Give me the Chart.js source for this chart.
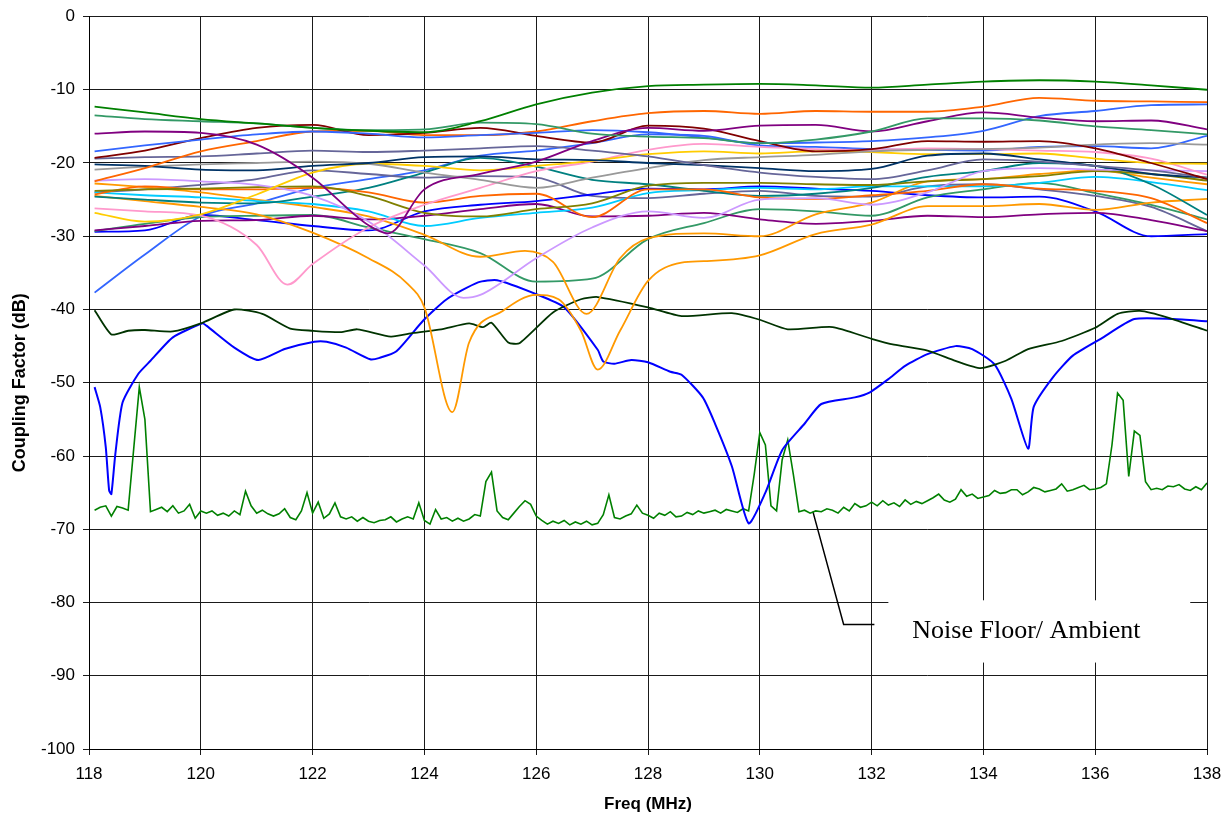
<!DOCTYPE html>
<html>
<head>
<meta charset="utf-8">
<script src="https://cdn.jsdelivr.net/npm/chart.js@4.4.1/dist/chart.umd.min.js"></script>
<style>
  html, body { margin: 0; padding: 0; background: #fff; }
  #wrap { width: 1232px; height: 821px; }
</style>
</head>
<body>
<div id="wrap"><canvas id="couplingChart" width="1232" height="821"></canvas></div>
<script>
// DATA

const freq = [118.1, 119, 120, 121, 122, 123, 124, 125, 126, 127, 128, 129, 130, 131, 132, 133, 134, 135, 136, 137, 138];

const greenTop = [-12.3, -13.1, -14, -14.6, -15.2, -15.6, -15.8, -14.3, -12, -10.4, -9.5, -9.3, -9.2, -9.4, -9.7, -9.3, -8.9, -8.7, -8.9, -9.4, -10];
const seaGreenTop = [-13.5, -14, -14.3, -14.6, -15.2, -15.5, -15.4, -14.5, -14.7, -16, -16.4, -16.6, -17.3, -16.8, -15.7, -13.9, -13.9, -14.2, -15, -15.5, -16.1];
const royalBlueTop = [-18.4, -17.6, -16.8, -16.1, -15.7, -16, -16.5, -16.2, -15.9, -15.5, -15.8, -16.5, -17.3, -17.2, -17, -16.5, -15.6, -13.6, -12.9, -12.1, -12];
const darkRed = [-19.3, -18.3, -16.6, -15.2, -14.8, -16.2, -15.9, -15.2, -16.3, -17.2, -14.9, -15.3, -17, -18.4, -18.1, -17, -17.1, -17, -18, -20, -22.2];
const orangeRising = [-22.5, -20.7, -18.4, -17, -15.7, -15.6, -16.2, -16.2, -15.7, -14.3, -13.2, -12.9, -13.3, -12.9, -13, -13, -12.3, -11.1, -11.5, -11.6, -11.7];
const slateTop = [-19.4, -19.2, -19.1, -18.7, -18.3, -18.5, -18.3, -18, -17.7, -18.3, -19.1, -20.3, -21.3, -21.9, -22.2, -21, -19.5, -19.8, -20.4, -21, -22];
const navy = [-20.2, -20.4, -20.9, -21, -20.4, -20, -19.2, -19.1, -19.5, -19.6, -20, -20.3, -20.7, -21.1, -20.8, -19, -18.7, -19.5, -20.4, -21.5, -22];
const gray = [-20.9, -20.5, -20.2, -20, -19.8, -20.1, -21.3, -22.3, -23.4, -22, -20.7, -19.6, -19.2, -18.9, -18.4, -18.2, -18.1, -17.9, -17.5, -17.3, -17.5];
const gold = [-26.8, -28, -27, -24.3, -21.3, -20.1, -20.4, -21, -20.4, -19.7, -18.8, -18.4, -18.7, -18.4, -18.5, -18.8, -18.8, -18.7, -19.4, -20, -20.1];
const olive = [-23.8, -23.6, -23.5, -23.3, -23.2, -24.5, -26.8, -27.3, -26.3, -25.5, -23.1, -22.7, -22.7, -22.9, -23, -22.5, -22.2, -21.8, -21.1, -21.5, -22.4];
const orangeLow = [-24.3, -23.2, -23.6, -23.6, -23.4, -24, -25.4, -24.5, -24.2, -27.4, -23.6, -23.6, -24.7, -24.9, -24.4, -23.8, -22.9, -23.5, -23.8, -24.8, -28.2];
const teal = [-24.6, -25, -25.4, -25.5, -24.6, -23.4, -21.3, -19.3, -20.5, -22.3, -22.9, -23.8, -24.5, -24.2, -23.4, -21.9, -21.1, -20, -20.4, -22.9, -27.1];
const cyan = [-24, -24.4, -24.7, -25.2, -25.6, -26.6, -28.6, -27.5, -26.8, -26.1, -24.1, -23.7, -23.4, -23.6, -23.2, -23.2, -23.2, -22.7, -21.9, -22.6, -23.7];
const purpleLow = [-29.2, -28.6, -27.9, -27.8, -27.2, -27.7, -27.2, -26.3, -25.6, -27.3, -27.2, -26.8, -27.7, -28.3, -27.9, -27.2, -27.4, -27, -26.8, -27.8, -29.3];
const seaGreenLow = [-29.3, -28.3, -27.4, -27.2, -27.1, -28.8, -30.4, -32.3, -36.2, -35.8, -30.4, -28.2, -26.3, -26.6, -27.2, -24.7, -23.6, -22.7, -24.1, -25.7, -27.7];
const blueUpper = [-29.4, -29.2, -27.1, -27.8, -28.6, -29.2, -26.6, -25.7, -25.2, -24.3, -23.5, -23.6, -23.2, -23.5, -23.8, -24.4, -24.7, -24.6, -26.6, -30, -29.7];
const slateLow = [-24, -23.6, -23, -22.2, -21, -21.5, -22, -21.8, -22, -24.5, -24.8, -24.2, -23.8, -24.5, -24.6, -23.2, -22.9, -23.6, -24.5, -26, -29.3];
const blueRising = [-37.7, -32.5, -27.3, -25.5, -23.4, -22.2, -21, -19, -18.3, -17.3, -16.1, -16.3, -17.6, -17.8, -18.1, -18.2, -18.3, -17.8, -17.7, -18, -16.3];

const purpleFreq = [118.1, 119, 120, 121, 122, 123, 123.35, 124, 125, 126, 127, 128, 129, 130, 131, 132, 133, 134, 135, 136, 137, 138];
const purpleTop = [-16, -15.7, -15.9, -17.5, -22, -28.5, -29.6, -23.6, -21.5, -19.8, -17, -15.2, -15.6, -14.9, -14.8, -15.7, -14.3, -13.1, -13.8, -14.3, -14.2, -15.4];

const pinkFreq = [118.1, 119, 120, 121, 121.55, 122, 123, 124, 125, 126, 127, 128, 129, 130, 131, 132, 133, 134, 135, 136, 137, 138];
const pink = [-26.2, -26.6, -27.2, -31.2, -36.6, -33.8, -28.8, -25.7, -23.4, -21.1, -19.8, -18.2, -17.4, -17.8, -18.1, -18.2, -18, -18.1, -18.3, -18.5, -19.4, -21.6];

const lavenderFreq = [118.1, 119, 120, 121, 122, 123, 124, 124.7, 125, 126, 127, 128, 129, 130, 131, 132, 133, 134, 135, 136, 137, 138];
const lavender = [-22.4, -22.2, -22.5, -23, -24.5, -28, -34, -38.4, -38, -33, -28.8, -26.6, -27.5, -25, -24.8, -25.7, -24, -21.1, -20.7, -20.9, -21, -21.1];

const amberMidFreq = [118.1, 119, 120, 121, 122, 123, 124, 125, 125.8, 126.3, 126.9, 127.5, 128, 129, 130, 131, 132, 133, 134, 135, 136, 137, 138];
const amberMid = [-22.8, -23.3, -24, -25, -26, -27.3, -29.8, -32.8, -32, -33.5, -40.6, -33, -30.3, -29.6, -30, -27, -25.4, -22.5, -22.2, -21.5, -21, -22, -22.9];

const amberDeepFreq = [118.1, 119, 120, 121, 122, 123, 123.7, 124, 124.5, 124.8, 125.4, 126, 126.4, 126.8, 127.1, 127.5, 128, 128.6, 129, 130, 131, 132, 133, 134, 135, 136, 137, 138];
const amberDeep = [-24.5, -25.2, -26, -27, -29.5, -33, -36.5, -39.7, -54, -44.5, -40.2, -38, -38.6, -42.9, -48.2, -42.9, -36.1, -33.6, -33.4, -32.6, -29.7, -28.4, -25.9, -25.9, -25.6, -26.4, -25.4, -24.9];

const darkGreenFreq = [118.1, 118.4, 118.7, 119, 119.5, 120, 120.6, 121.1, 121.6, 122, 122.5, 122.8, 123.4, 123.8, 124.3, 124.8, 125.05, 125.2, 125.5, 125.7, 126.3, 126.8, 127.1, 128, 128.6, 129.5, 130, 130.5, 131.3, 132, 132.4, 133, 133.5, 133.95, 134.4, 134.8, 135.4, 136, 136.4, 136.8, 137.3, 138];
const darkGreen = [-40.1, -43.4, -42.9, -42.8, -43, -41.9, -40, -40.6, -42.6, -42.9, -43.1, -42.7, -43.7, -43.2, -42.7, -41.9, -42.4, -41.8, -44.5, -44.6, -40.4, -38.6, -38.3, -39.7, -40.9, -40.5, -41.4, -42.7, -42.4, -44, -44.8, -45.6, -47, -48, -47, -45.4, -44.3, -42.5, -40.6, -40.2, -41.1, -42.9];

const blueDipFreq = [118.1, 118.2, 118.3, 118.36, 118.4, 118.47, 118.6, 118.88, 119.1, 119.5, 120.03, 120.1, 120.6, 121.03, 121.5, 122.03, 122.25, 122.6, 123.03, 123.2, 123.5, 123.98, 124.4, 124.96, 125.3, 126, 126.5, 127.1, 127.2, 127.4, 127.7, 128, 128.4, 128.6, 128.98, 129.2, 129.5, 129.8, 130.1, 130.4, 130.8, 131.1, 131.7, 131.97, 132.3, 132.6, 133, 133.5, 133.8, 134.2, 134.5, 134.8, 134.9, 135.25, 135.6, 136.1, 136.7, 137.4, 138];
const blueDip = [-50.6, -53.3, -58.8, -64.7, -65.2, -59.8, -52.7, -48.8, -47, -43.8, -41.9, -42.2, -45.2, -46.9, -45.4, -44.4, -44.4, -45.2, -46.8, -46.6, -45.7, -41.5, -38.6, -36.3, -36, -37.9, -39.7, -45.5, -47.1, -47.4, -46.9, -47.2, -48.5, -48.9, -52, -55.6, -61.4, -69.2, -65, -59.2, -55.6, -52.9, -52, -51.3, -49.5, -47.7, -46.1, -45, -45.4, -47.5, -52.2, -59, -53.3, -49.2, -46.3, -44, -41.3, -41.3, -41.6];

// noise floor, one reading every 0.1 MHz from 118.1 to 138.0
const noiseStart = 118.1;
const noiseStep = 0.1;
const noiseFloor = [
  -67.4, -67.0, -66.8, -68.2, -66.9, -67.1, -67.4, -59.0, -50.6, -55.0,
  -67.6, -67.3, -67.0, -67.6, -66.8, -67.8, -67.5, -66.6, -68.5, -67.5,
  -67.8, -67.5, -68.1, -67.8, -68.2, -67.5, -68.0, -64.8, -66.8, -67.8,
  -67.4, -67.9, -68.2, -67.9, -67.2, -68.4, -68.7, -67.5, -65.0, -67.8,
  -66.3, -68.5, -67.9, -66.4, -68.3, -68.6, -68.3, -68.9, -68.4, -68.9,
  -69.1, -68.8, -68.7, -68.3, -69.0, -68.6, -68.3, -68.6, -66.4, -68.8,
  -69.3, -67.3, -68.6, -68.4, -68.9, -68.5, -68.9, -68.6, -68.0, -68.2,
  -63.5, -62.2, -67.5, -68.4, -68.7, -67.8, -66.9, -66.1, -66.6, -68.2,
  -68.8, -69.3, -68.9, -69.2, -68.8, -69.4, -69.0, -69.3, -68.9, -69.4,
  -69.2, -68.0, -65.3, -68.4, -68.6, -68.2, -67.9, -66.7, -67.8, -68.1,
  -68.5, -67.8, -68.1, -67.6, -68.3, -68.2, -67.7, -68.0, -67.5, -67.8,
  -67.6, -67.4, -67.8, -67.3, -67.5, -67.7, -67.2, -67.5, -62.5, -56.8,
  -58.5, -66.8, -67.5, -60.5, -57.8, -62.5, -67.6, -67.4, -67.8, -67.5,
  -67.6, -67.2, -67.4, -67.8, -67.0, -67.5, -66.5, -67.0, -66.8, -66.3,
  -66.8, -66.1, -66.7, -66.4, -66.9, -66.0, -66.6, -66.2, -66.5, -66.1,
  -65.7, -65.2, -66.0, -66.3, -65.9, -64.6, -65.5, -65.2, -65.8, -65.6,
  -65.4, -64.7, -65.1, -65.0, -64.6, -64.6, -65.3, -64.9, -64.3, -64.5,
  -64.9, -64.7, -64.5, -63.8, -64.8, -64.6, -64.3, -64.0, -64.6, -64.5,
  -64.3, -63.8, -58.5, -51.4, -52.4, -62.8, -56.6, -57.2, -63.5, -64.6,
  -64.4, -64.6, -64.1, -64.2, -63.9, -64.5, -64.7, -64.2, -64.6, -63.7
];

// callout
const calloutX = [130.95, 131.5, 132.05];
const calloutY = [-67.6, -83, -83];
const calloutText = 'Noise Floor/ Ambient';
const calloutBoxX = [132.3, 137.7];
const calloutBoxY = [-79.7, -88.2];
const calloutTextPos = [134.77, -83.9];

const xTicks = [118, 138, 2];
const yTicks = [-100, 0, 10];


// HELPERS

function pts(xs, ys) {
    return ys.map((y, i) => ({ x: xs[i], y: y }));
}

function smooth(xs, ys, color) {
    return {
        data: pts(xs, ys),
        borderColor: color,
        borderWidth: 1.8,
        cubicInterpolationMode: 'monotone',
        pointRadius: 0
    };
}

const noisePts = noiseFloor.map((y, i) => ({ x: +(noiseStart + i * noiseStep).toFixed(2), y: y }));


// CALLOUT BOX PLUGIN

const calloutPlugin = {
    id: 'callout',
    afterDatasetsDraw(chart) {
        const c = chart.ctx;
        const sx = chart.scales.x;
        const sy = chart.scales.y;
        const x0 = sx.getPixelForValue(calloutBoxX[0]);
        const x1 = sx.getPixelForValue(calloutBoxX[1]);
        const y0 = sy.getPixelForValue(calloutBoxY[0]);
        const y1 = sy.getPixelForValue(calloutBoxY[1]);
        c.save();
        c.fillStyle = '#ffffff';
        c.fillRect(x0, y0, x1 - x0, y1 - y0);
        c.fillStyle = '#000000';
        c.font = '26px "Liberation Serif", "Times New Roman", serif';
        c.textAlign = 'center';
        c.textBaseline = 'middle';
        c.fillText(calloutText, sx.getPixelForValue(calloutTextPos[0]), sy.getPixelForValue(calloutTextPos[1]));
        c.restore();
    }
};


// CHART

const ctx = document.getElementById('couplingChart');

new Chart(ctx, {
    type: 'line',

    data: {
        datasets: [
            smooth(freq, greenTop, '#008000'),
            smooth(freq, seaGreenTop, '#339966'),
            smooth(purpleFreq, purpleTop, '#800080'),
            smooth(freq, royalBlueTop, '#3366ff'),
            smooth(freq, darkRed, '#800000'),
            smooth(freq, orangeRising, '#ff6600'),
            smooth(freq, slateTop, '#666699'),
            smooth(freq, navy, '#003366'),
            smooth(freq, gray, '#999999'),
            smooth(freq, gold, '#ffcc00'),
            smooth(pinkFreq, pink, '#ff99cc'),
            smooth(lavenderFreq, lavender, '#cc99ff'),
            smooth(freq, olive, '#808000'),
            smooth(freq, orangeLow, '#ff6600'),
            smooth(freq, teal, '#008080'),
            smooth(freq, cyan, '#00ccff'),
            smooth(amberMidFreq, amberMid, '#ff9900'),
            smooth(amberDeepFreq, amberDeep, '#ff9900'),
            smooth(freq, purpleLow, '#800080'),
            smooth(freq, seaGreenLow, '#339966'),
            smooth(freq, blueUpper, '#0000ff'),
            smooth(freq, slateLow, '#666699'),
            smooth(freq, blueRising, '#3366ff'),
            {
                data: pts(darkGreenFreq, darkGreen),
                borderColor: '#003300',
                borderWidth: 1.8,
                tension: 0.2,
                pointRadius: 0
            },
            {
                data: pts(blueDipFreq, blueDip),
                borderColor: '#0000ff',
                borderWidth: 2,
                tension: 0.2,
                pointRadius: 0
            },
            {
                data: noisePts,
                borderColor: '#008000',
                borderWidth: 1.6,
                tension: 0,
                pointRadius: 0
            },
            {
                data: pts(calloutX, calloutY),
                borderColor: '#000000',
                borderWidth: 1.5,
                tension: 0,
                pointRadius: 0
            }
        ]
    },

    options: {
        responsive: false,
        animation: false,
        devicePixelRatio: 1,
        layout: {
            padding: { top: 6, right: 25, left: 0, bottom: 0 }
        },
        plugins: {
            legend: { display: false },
            tooltip: { enabled: false }
        },
        scales: {
            x: {
                type: 'linear',
                min: xTicks[0],
                max: xTicks[1],
                afterFit: (s) => { s.height = 72; },
                ticks: {
                    stepSize: xTicks[2],
                    color: '#000',
                    padding: 9,
                    maxRotation: 0,
                    font: { family: '"Liberation Sans", Arial, sans-serif', size: 17 }
                },
                grid: { color: '#1a1a1a', lineWidth: 1, tickLength: 6 },
                border: { color: '#000', width: 1 },
                title: {
                    display: true,
                    text: 'Freq (MHz)',
                    color: '#000',
                    padding: { top: 0, bottom: 6 },
                    font: { family: '"Liberation Sans", Arial, sans-serif', size: 17, weight: 'bold' }
                }
            },
            y: {
                min: yTicks[0],
                max: yTicks[1],
                afterFit: (s) => { s.width = 89; },
                ticks: {
                    stepSize: yTicks[2],
                    color: '#000',
                    padding: 8,
                    font: { family: '"Liberation Sans", Arial, sans-serif', size: 17, lineHeight: 1 }
                },
                grid: { color: '#1a1a1a', lineWidth: 1, tickLength: 6 },
                border: { color: '#000', width: 1 },
                title: {
                    display: true,
                    text: 'Coupling Factor (dB)',
                    color: '#000',
                    padding: { top: 9, bottom: 0 },
                    font: { family: '"Liberation Sans", Arial, sans-serif', size: 18, weight: 'bold' }
                }
            }
        }
    },

    plugins: [calloutPlugin]
});
</script>
</body>
</html>
